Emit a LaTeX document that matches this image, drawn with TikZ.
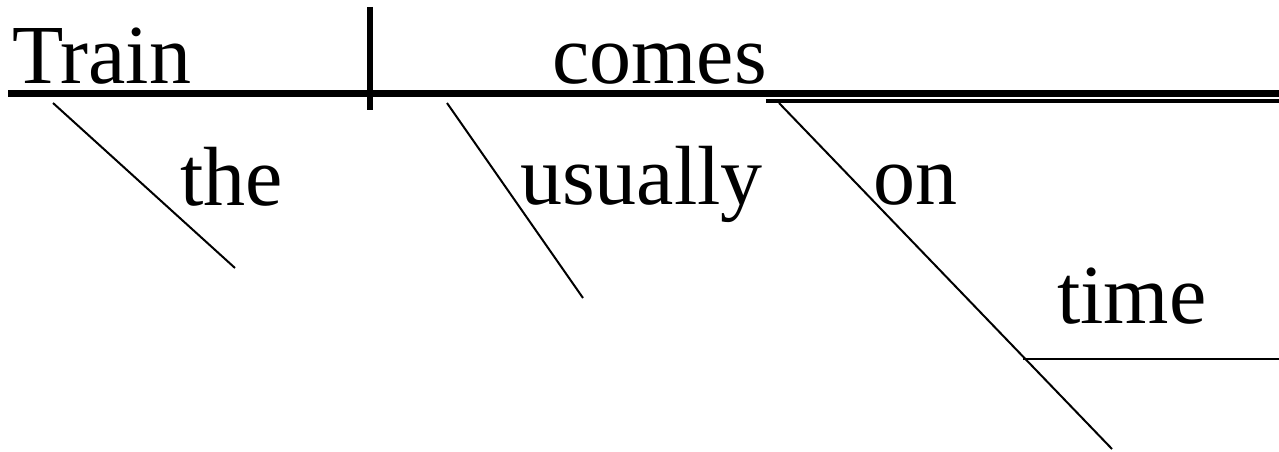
\documentclass[tikz,border=0pt]{standalone}
\usepackage{fontspec}
\setmainfont{Liberation Serif}
\usepackage{tikz}
\usetikzlibrary{positioning,calc}

\tikzset{
  word/.style={anchor=base west,inner sep=0pt,font=\fontsize{84}{90}\selectfont},
  mainline/.style={line width=7.5pt},
  dividerline/.style={line width=6pt},
  slant/.style={line width=2pt},
}

\begin{document}
\begin{tikzpicture}[x=1pt,y=-1pt]
\useasboundingbox (0,0) rectangle (1279,452);
\node[word] (train) at (12,83) {Train};
\node[word] (comes) at (552,83) {comes};
\node[word] (the) at (180,205) {the};
\node[word] (usually) at (520,204) {usually};
\node[word] (on) at (873,204) {on};
\node[word] (time) at (1057,323) {time};
\coordinate (baseL) at (8,93.5);
\coordinate (baseR) at (1279,93.5);
\coordinate (predL) at (766,101);
\coordinate (predR) at (1279,101);
\coordinate (divT) at (370,7);
\coordinate (divB) at (370,110);
\coordinate (theT) at (53,103);
\coordinate (theB) at (235,268);
\coordinate (usuT) at (447,103);
\coordinate (usuB) at (583,298);
\coordinate (onT) at (779,103);
\coordinate (onB) at (1112,449);
\coordinate (timeL) at (1023,359);
\coordinate (timeR) at (1279,359);
\draw[mainline] (baseL) -- (baseR);
\draw[line width=3.5pt] (predL) -- (predR);
\draw[dividerline] (divT) -- (divB);
\draw[slant] (theT) -- (theB);
\draw[slant] (usuT) -- (usuB);
\draw[slant] (onT) -- (onB);
\draw[slant] (timeL) -- (timeR);
\end{tikzpicture}
\end{document}
